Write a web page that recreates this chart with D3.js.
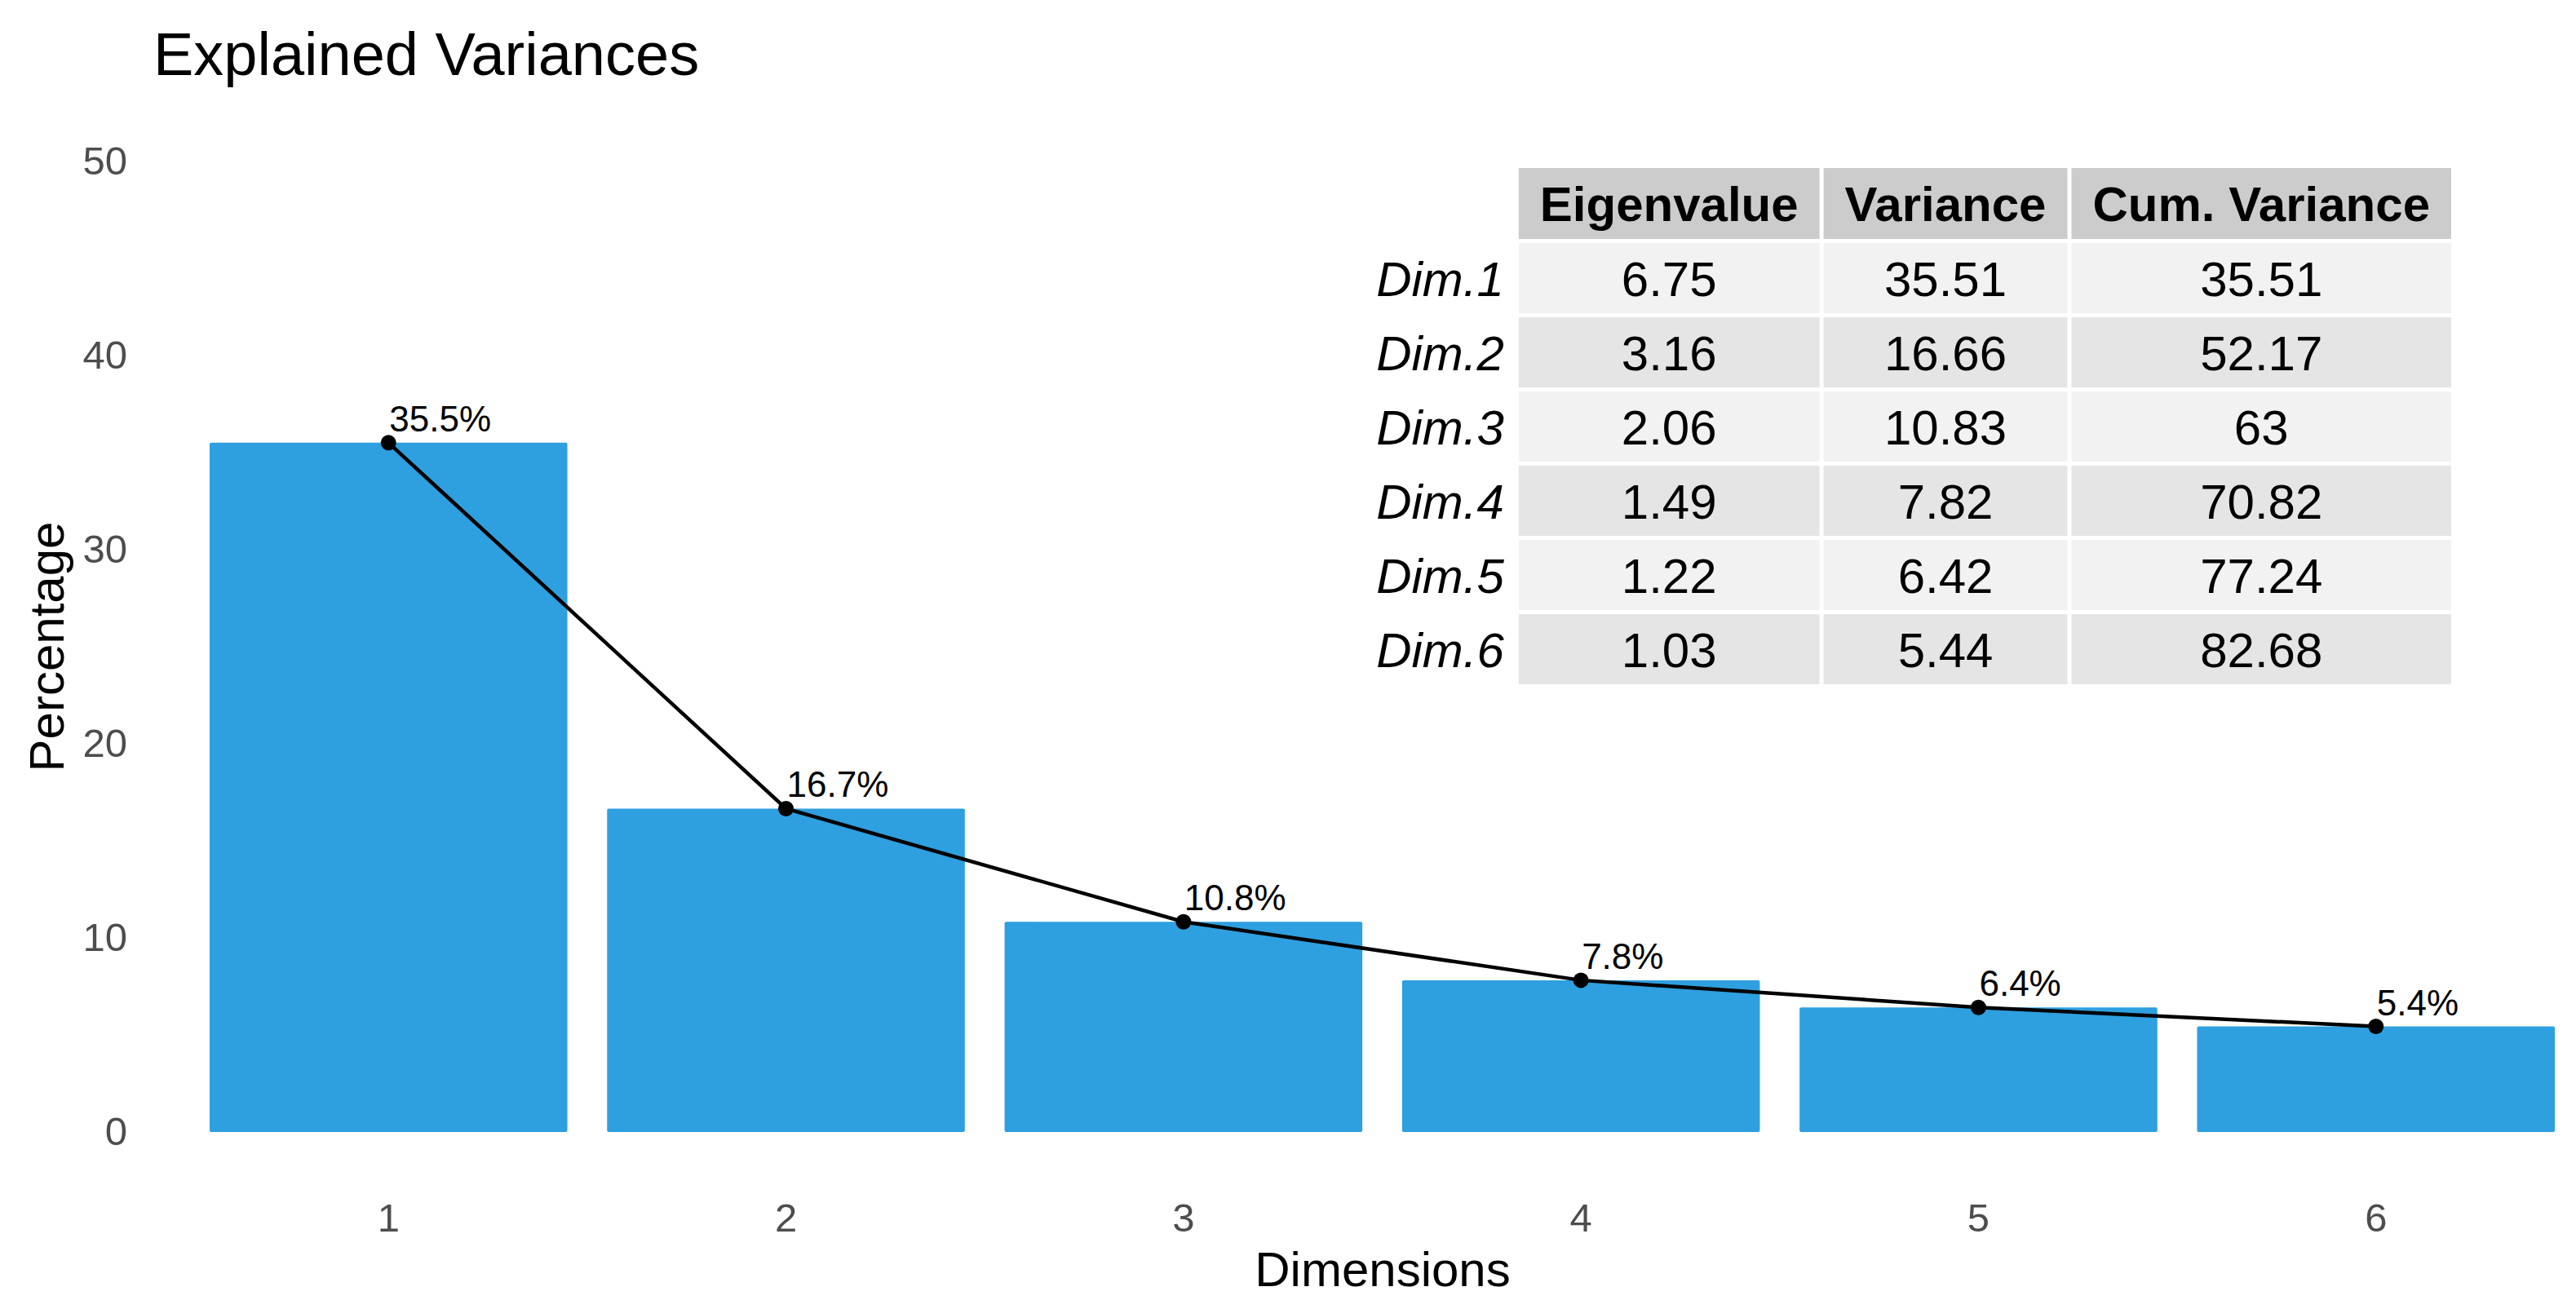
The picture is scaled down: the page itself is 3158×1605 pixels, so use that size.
<!DOCTYPE html>
<html>
<head>
<meta charset="utf-8">
<script src="https://cdn.jsdelivr.net/npm/d3@7/dist/d3.min.js"></script>
<style>
  html, body { margin: 0; padding: 0; background: #fff; }
  svg text { font-family: "Liberation Sans", Arial, Helvetica, sans-serif; }
</style>
</head>
<body>
<div id="chart"></div>
<script>
"use strict";

// values
var dims = [1, 2, 3, 4, 5, 6];
var variance = [35.51, 16.66, 10.83, 7.82, 6.42, 5.44];
var eigenvalues = [6.75, 3.16, 2.06, 1.49, 1.22, 1.03];
var cumVariance = [35.51, 52.17, 63, 70.82, 77.24, 82.68];
var yTicks = [0, 10, 20, 30, 40, 50];
var tableHeader = ["Eigenvalue", "Variance", "Cum. Variance"];
var rowNames = dims.map(d => "Dim." + d);

var W = 3158, H = 1605;
var barColor = "#2E9FDF";
var tickColor = "#4D4D4D";

var svg = d3.select("#chart").append("svg")
  .attr("width", W)
  .attr("height", H)
  .attr("viewBox", "0 0 " + W + " " + H);

// scales
var x = d3.scaleBand()
  .domain(dims)
  .range([232.6, 3156.4])
  .paddingInner(0.1)
  .paddingOuter(0.05);

var y = d3.scaleLinear()
  .domain([0, 50])
  .range([1388, 198]);

// title
svg.append("text")
  .attr("x", 188)
  .attr("y", 92)
  .style("font-size", "74px")
  .attr("fill", "#000")
  .text("Explained Variances");

// y axis (labels only, no lines)
var yAxis = d3.axisLeft(y).tickValues(yTicks).tickSize(0).tickPadding(0);
var gy = svg.append("g").attr("transform", "translate(156,0)").call(yAxis);
gy.select(".domain").remove();
gy.selectAll("text")
  .attr("fill", tickColor)
  .style("font-size", "49px")
  .style("font-family", "'Liberation Sans', Arial, sans-serif");

// x axis
var xAxis = d3.axisBottom(x).tickSize(0).tickPadding(0);
var gx = svg.append("g").attr("transform", "translate(0,1510)").call(xAxis);
gx.select(".domain").remove();
gx.selectAll("text")
  .attr("dy", 0)
  .attr("fill", tickColor)
  .style("font-size", "49px")
  .style("font-family", "'Liberation Sans', Arial, sans-serif");

// axis titles
svg.append("text")
  .attr("x", 1695)
  .attr("y", 1577)
  .attr("text-anchor", "middle")
  .style("font-size", "60px")
  .text("Dimensions");

svg.append("text")
  .attr("transform", "translate(78," + y(25) + ") rotate(-90)")
  .attr("text-anchor", "middle")
  .style("font-size", "60px")
  .text("Percentage");

// bars
var data = dims.map((d, i) => ({dim: d, v: variance[i]}));

svg.selectAll(".bar").data(data)
  .enter()
  .append("rect")
  .attr("class", "bar")
  .attr("x", d => x(d.dim))
  .attr("y", d => y(d.v))
  .attr("width", x.bandwidth())
  .attr("height", d => y(0) - y(d.v))
  .attr("rx", 2)
  .attr("fill", barColor);

// line + points
var cx = d => x(d.dim) + x.bandwidth() / 2;
var line = d3.line().x(cx).y(d => y(d.v));

svg.append("path")
  .datum(data)
  .attr("d", line)
  .attr("fill", "none")
  .attr("stroke", "#000")
  .attr("stroke-width", 4.5);

svg.selectAll(".pt").data(data)
  .enter()
  .append("circle")
  .attr("cx", cx)
  .attr("cy", d => y(d.v))
  .attr("r", 9.5)
  .attr("fill", "#000");

svg.selectAll(".lbl").data(data)
  .enter()
  .append("text")
  .attr("x", d => cx(d) + 1)
  .attr("y", d => y(d.v) - 14)
  .style("font-size", "44px")
  .text(d => d3.format(".1f")(d.v) + "%");

// table (gridExtra style)
var tFont = 60;
var pad = 26;
var gap = 5;
var rowH = 91;
var headH = 87;
var tableRight = 3005;
var tableTop = 206;

var rows = dims.map((d, i) => [eigenvalues[i], variance[i], cumVariance[i]].map(String));

// measure column widths from text
var tmp = svg.append("g");
var colW = tableHeader.map((h, j) => {
  var t = tmp.append("text").style("font-size", tFont + "px").style("font-weight", "bold").text(h);
  var w = t.node().getComputedTextLength();
  rows.forEach(r => {
    var tt = tmp.append("text").style("font-size", tFont + "px").text(r[j]);
    w = Math.max(w, tt.node().getComputedTextLength());
  });
  return w + 2 * pad;
});
tmp.remove();

var totalW = d3.sum(colW) + gap * (colW.length - 1);
var colX = [];
var acc = tableRight - totalW;
colW.forEach(w => { colX.push(acc); acc += w + gap; });

var table = svg.append("g");

// header
tableHeader.forEach((h, j) => {
  table.append("rect")
    .attr("x", colX[j]).attr("y", tableTop)
    .attr("width", colW[j]).attr("height", headH)
    .attr("fill", "#CCCCCC");
  table.append("text")
    .attr("x", colX[j] + colW[j] / 2)
    .attr("y", tableTop + headH / 2 + tFont * 0.36)
    .attr("text-anchor", "middle")
    .style("font-size", tFont + "px")
    .style("font-weight", "bold")
    .text(h);
});

// body rows
rows.forEach((r, i) => {
  var ry = tableTop + headH + gap + i * rowH;
  var fill = i % 2 === 0 ? "#F2F2F2" : "#E5E5E5";
  r.forEach((v, j) => {
    table.append("rect")
      .attr("x", colX[j]).attr("y", ry)
      .attr("width", colW[j]).attr("height", rowH - gap)
      .attr("fill", fill);
    table.append("text")
      .attr("x", colX[j] + colW[j] / 2)
      .attr("y", ry + (rowH - gap) / 2 + tFont * 0.36)
      .attr("text-anchor", "middle")
      .style("font-size", tFont + "px")
      .text(v);
  });
  table.append("text")
    .attr("x", colX[0] - 18)
    .attr("y", ry + (rowH - gap) / 2 + tFont * 0.36)
    .attr("text-anchor", "end")
    .style("font-size", tFont + "px")
    .style("font-style", "italic")
    .text(rowNames[i]);
});
</script>
</body>
</html>
